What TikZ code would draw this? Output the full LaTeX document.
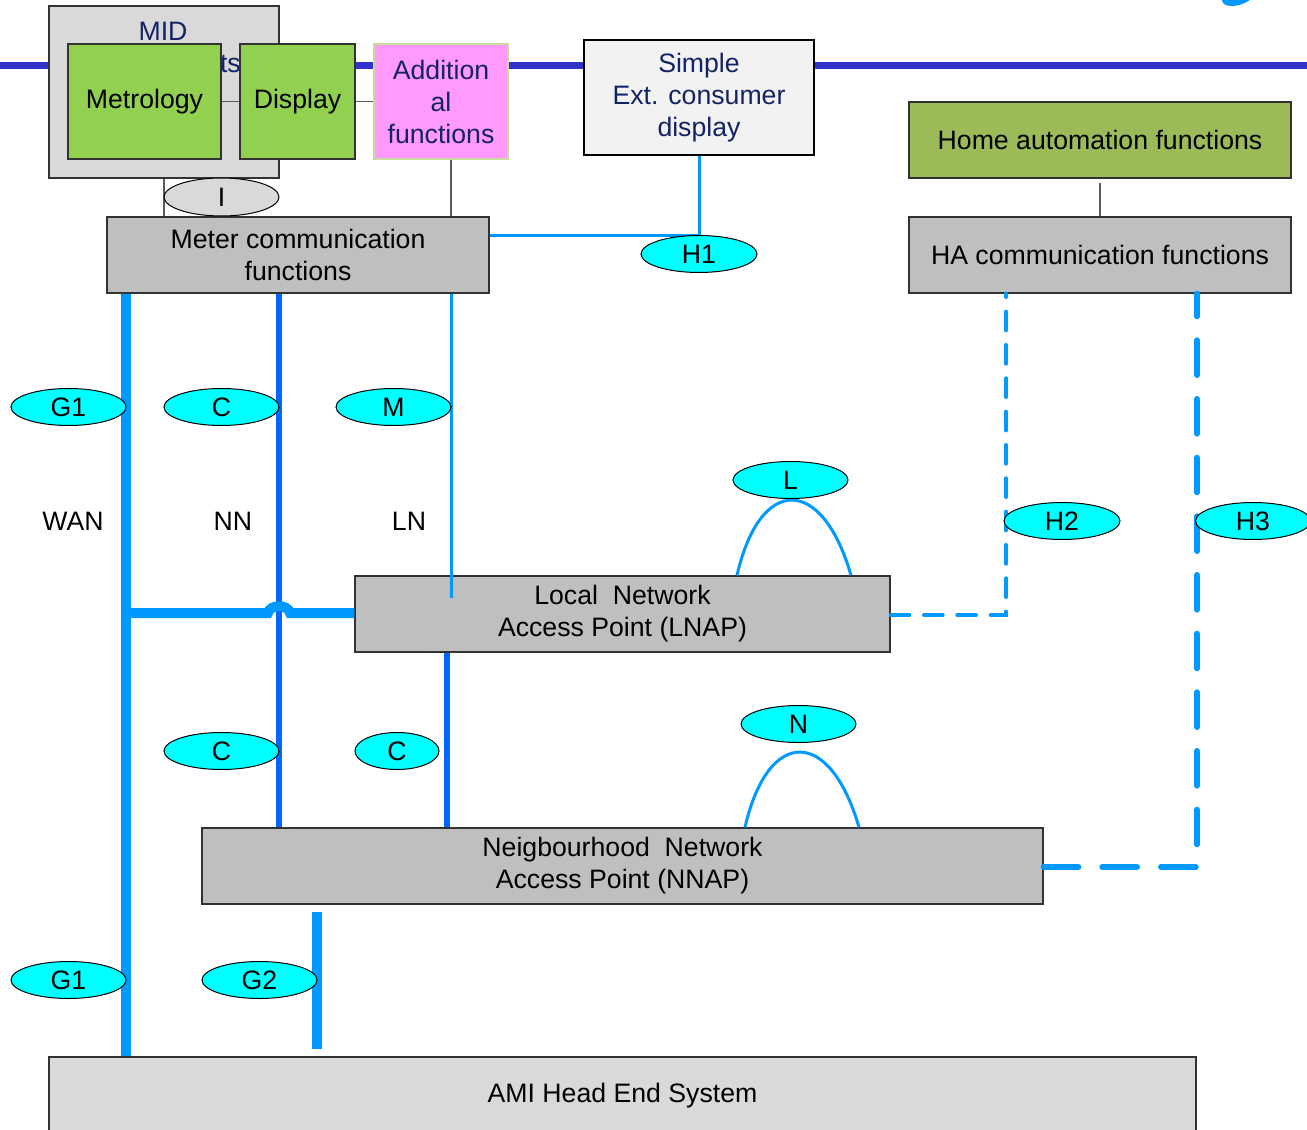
\documentclass[tikz,border=0pt]{standalone}
\usepackage{fontspec}
\setmainfont{Liberation Sans}
\usetikzlibrary{shapes.geometric}
\definecolor{dblue}{RGB}{51,51,204}
\definecolor{lblue}{RGB}{0,153,255}
\definecolor{mblue}{RGB}{0,102,255}
\definecolor{navy}{RGB}{20,35,100}
\definecolor{metgreen}{RGB}{146,208,80}
\definecolor{hagreen}{RGB}{155,187,89}
\definecolor{pinkfill}{RGB}{255,153,255}
\definecolor{pinkline}{RGB}{200,220,160}
\definecolor{gray1}{RGB}{191,191,191}
\definecolor{gray2}{RGB}{217,217,217}
\definecolor{gray3}{RGB}{242,242,242}
\definecolor{boxline}{RGB}{50,50,50}
\definecolor{thingray}{RGB}{90,90,90}
\definecolor{cyanfill}{RGB}{0,255,255}
\tikzset{
  blk/.style={rectangle, draw=boxline, line width=1pt, inner sep=0pt, align=center, text=black},
  lbl/.style={ellipse, draw=black, line width=0.75pt, fill=cyanfill, inner sep=0pt,
              minimum height=27.75pt, minimum width=86.25pt},
  thinln/.style={draw=thingray, line width=1pt},
  wanln/.style={draw=lblue, line width=7.5pt},
  nnln/.style={draw=mblue, line width=4.1pt},
  lnln/.style={draw=lblue, line width=2.25pt},
  htwo/.style={draw=lblue, line width=3pt, line cap=round, dash pattern=on 14pt off 11pt},
  hthree/.style={draw=lblue, line width=4.5pt, line cap=round, dash pattern=on 26pt off 18pt},
  plain/.style={inner sep=0pt, text=black}
}
\begin{document}
\begin{tikzpicture}[x=0.75pt,y=-0.75pt,font=\fontsize{20}{24}\selectfont]
\clip (0,0) rectangle (1307,1130);
\fill[white] (0,0) rectangle (1307,1130);
% top bus line
\coordinate (busl) at (0,66);
\coordinate (busr) at (1307,66);
\draw[dblue, line width=5.25pt] (busl) -- (busr);
% logo fragment
\fill[lblue] (1222,0) .. controls (1222,7) and (1236,9) .. (1250,0) -- cycle;

% MID block
\node[blk, fill=gray2, minimum width=172.5pt, minimum height=129pt] (mid) at (164,92) {};
\node[plain, text=navy, align=center] (midtext) at (163,50) {MID\\requirements};
\node[blk, fill=metgreen, minimum width=114.75pt, minimum height=86.25pt] (met) at (144.5,101.5) {Metrology};
\node[blk, fill=metgreen, minimum width=86.25pt, minimum height=86.25pt] (disp) at (297.5,101.5) {Display};
\node[blk, draw=pinkline, fill=pinkfill, text=navy, minimum width=100.5pt, minimum height=86.25pt] (add) at (441,101.5) {Addition\\al\\functions};
\node[blk, draw=black, fill=gray3, text=navy, minimum width=172.5pt, minimum height=86.25pt] (simple) at (699,97.5) {Simple\\Ext. consumer\\display};
\draw[thinln] (met.east) -- (disp.west);
\draw[thinln] (disp.east) -- (add.west);

% meter communication
\node[blk, fill=gray1, minimum width=286.5pt, minimum height=57pt] (mcf) at (298,255) {Meter communication\\functions};
\draw[thinln] (mid.south -| 164,0) -- (mcf.north -| 164,0);
\draw[thinln] (add.south -| 451,0) -- (mcf.north -| 451,0);
\node[ellipse, draw=black, line width=0.75pt, fill=gray2, inner sep=0pt, minimum width=86.25pt, minimum height=28.5pt] (iface) at (221.5,197) {I};

% H1
\draw[lnln] (simple.south) -- (simple.south |- 0,236) -- (mcf.east |- 0,236);
\node[lbl, minimum width=87pt] (h1) at (699,254) {H1};

% home automation
\node[blk, fill=hagreen, minimum width=286.5pt, minimum height=57pt] (ha) at (1100,140) {Home automation functions};
\node[blk, fill=gray1, minimum width=286.5pt, minimum height=57pt] (hac) at (1100,255) {HA communication functions};
\draw[thinln] ([yshift=-3pt]ha.south) -- (hac.north);

% LNAP, NNAP, AMI
\node[blk, fill=gray1, minimum width=401.25pt, minimum height=57pt] (lnap) at (622.5,614) {Local\ \ Network\\Access Point (LNAP)};
\node[blk, fill=gray1, minimum width=630.75pt, minimum height=57pt] (nnap) at (622.5,866) {Neigbourhood\ \ Network\\Access Point (NNAP)};
\node[blk, fill=gray2, minimum width=860.25pt, minimum height=58.5pt] (ami) at (622.5,1096) {AMI Head End System};

% vertical links
\draw[wanln] (mcf.south -| 126,0) -- (ami.north -| 126,0);
\draw[nnln] (mcf.south -| 279,0) -- (nnap.north -| 279,0);
\draw[nnln] (lnap.south -| 447,0) -- (nnap.north -| 447,0);
\coordinate (lnend) at (451,598);
\draw[lnln] (mcf.south -| 451,0) -- (lnend);
\draw[wanln] (126,613) -- (268,613) .. controls (270,604) and (288,604) .. (290,613) -- (lnap.west |- 0,613);
\coordinate (g2top) at (317,912);
\coordinate (g2bot) at (317,1049);
\draw[wanln] (g2top) -- (g2bot);

% arcs L and N
\draw[lnln] (lnap.north -| 737,0) .. controls (760,475) and (822,475) .. (lnap.north -| 851,0);
\draw[lnln] (nnap.north -| 745,0) .. controls (768,727) and (830,727) .. (nnap.north -| 859,0);

% dashed links H2, H3
\draw[htwo] (lnap.east |- 0,615) -- (1006,615) -- (hac.south -| 1006,0);
\draw[hthree] (nnap.east |- 0,867) -- (1197,867) -- (hac.south -| 1197,0);

% labels
\node[lbl] (g1a) at (68.5,407) {G1};
\node[lbl] (ca) at (221.5,407) {C};
\node[lbl] (m) at (393.5,407) {M};
\node[lbl] (l) at (790.5,480) {L};
\node[lbl, minimum width=87pt] (h2) at (1062,521) {H2};
\node[lbl] (h3) at (1253,521) {H3};
\node[lbl] (cb) at (221.5,751) {C};
\node[lbl, minimum width=63pt] (cc) at (397,751) {C};
\node[lbl] (n) at (798.5,724) {N};
\node[lbl] (g1b) at (68.5,980) {G1};
\node[lbl] (g2) at (259.5,980) {G2};

\node[plain] (wan) at (73,521) {WAN};
\node[plain] (nnt) at (233,521) {NN};
\node[plain] (lnt) at (409,521) {LN};
\end{tikzpicture}
\end{document}
